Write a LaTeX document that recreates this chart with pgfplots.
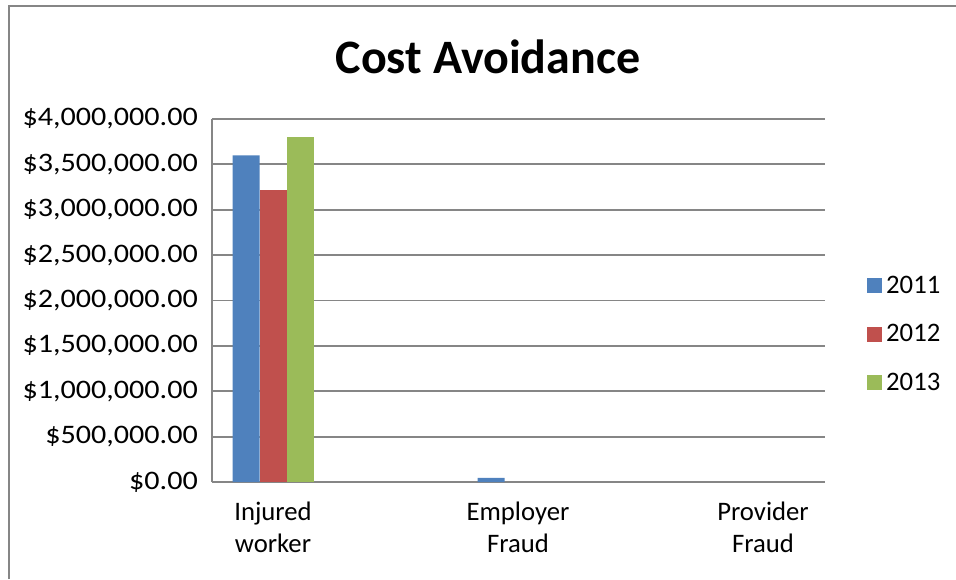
\documentclass[border=0pt]{standalone}
\usepackage{pgfplots}
\pgfplotsset{compat=1.18}
\usepackage{fontspec}
\setmainfont{Carlito}
\definecolor{s2011}{HTML}{4F81BD}
\definecolor{s2012}{HTML}{C0504D}
\definecolor{s2013}{HTML}{9BBB59}
\definecolor{gridgray}{HTML}{868686}
\newcommand{\yl}[1]{\scalebox{1.128}[1]{#1}}
\begin{document}
\begin{tikzpicture}[x=1pt,y=1pt]
\path[use as bounding box] (0,0) rectangle (956,579);
\draw[gridgray,line width=2pt] (8.5,0) -- (8.5,573) -- (956,573);
\node[font=\fontsize{48}{56}\selectfont\bfseries] at (488,522) {Cost Avoidance};
\begin{axis}[
  at={(212pt,97pt)}, anchor=south west,
  scale only axis, width=613pt, height=363pt,
  ybar=0pt, bar width=27pt,
  xmin=-0.249, xmax=2.253,
  ymin=0, ymax=4000000,
  axis x line*=bottom, axis y line*=left,
  axis line style={gridgray,line width=1.8pt},
  x axis line style={-}, y axis line style={-},
  ymajorgrids, grid style={gridgray,line width=1.8pt},
  major tick length=0pt,
  xtick={0,1,2},
  xticklabels={{Injured\\worker},{Employer\\Fraud},{Provider\\Fraud}},
  xticklabel style={align=center,font=\fontsize{26.7}{32}\selectfont,inner sep=0pt,yshift=-20pt},
  ytick={0,500000,1000000,1500000,2000000,2500000,3000000,3500000,4000000},
  yticklabels={{\yl{\$0.00}},{\yl{\$500,000.00}},{\yl{\$1,000,000.00}},{\yl{\$1,500,000.00}},{\yl{\$2,000,000.00}},{\yl{\$2,500,000.00}},{\yl{\$3,000,000.00}},{\yl{\$3,500,000.00}},{\yl{\$4,000,000.00}}},
  yticklabel style={font=\fontsize{26.7}{32}\selectfont,inner sep=0pt,xshift=-14pt},
  scaled y ticks=false,
  legend style={at={(axis description cs:1.0685,0.4077)}, anchor=west, draw=none, fill=none,
    font=\fontsize{26.7}{32}\selectfont, row sep=25.5pt, inner xsep=0pt,
    nodes={inner xsep=4pt}},
  legend cell align=left,
  legend image code/.code={\fill[#1] (0pt,-7.5pt) rectangle (15pt,7.5pt);},
  clip=false,
]
\addplot[fill=s2011,draw=none] coordinates {(0,3600000) (1,45000)};
\addplot[fill=s2012,draw=none] coordinates {(0,3215000)};
\addplot[fill=s2013,draw=none] coordinates {(0,3800000)};
\legend{2011,2012,2013}
\end{axis}
\end{tikzpicture}
\end{document}
